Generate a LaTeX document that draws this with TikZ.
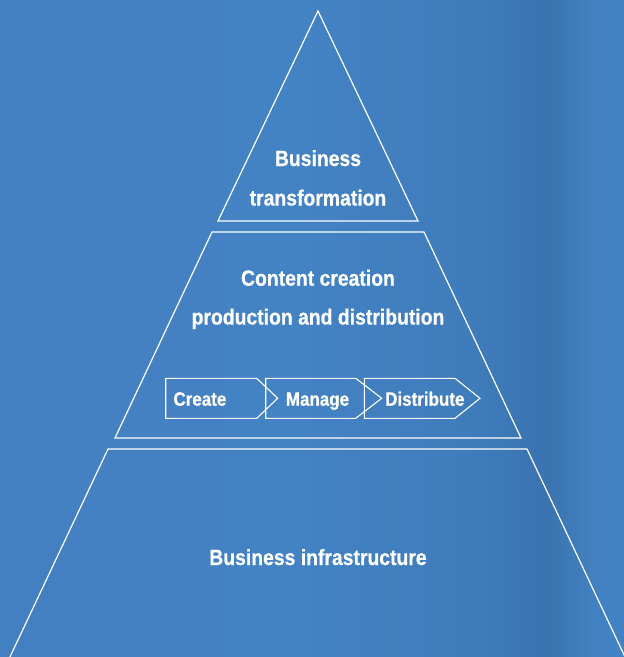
\documentclass[tikz,border=0pt]{standalone}
\usepackage{fontspec}
\newfontfamily\cond{Liberation Sans}[FakeStretch=0.88, BoldFeatures={FakeBold=0.6}]
\definecolor{bgA}{HTML}{4380C1}
\definecolor{bgB}{HTML}{4382C3}
\definecolor{bgC}{HTML}{3F7CBC}
\definecolor{bgD}{HTML}{3A73B0}
\definecolor{bgE}{HTML}{4280C0}
\definecolor{bgF}{HTML}{4282C4}
\pgfdeclarehorizontalshading{bgshade}{100bp}{color(0bp)=(bgA); color(25bp)=(bgA); color(49bp)=(bgB); color(62.7bp)=(bgC); color(68.8bp)=(bgD); color(72.3bp)=(bgE); color(75bp)=(bgF); color(100bp)=(bgF)}
\tikzset{
  layer/.style={draw=white, line width=1.2pt, line join=miter},
  chev/.style={draw=white, line width=1.1pt, line join=miter},
  title/.style={text=white, font=\cond\bfseries\fontsize{22}{26}\selectfont, anchor=base, inner sep=0pt},
  chevtext/.style={text=white, font=\cond\bfseries\fontsize{19.3}{22}\selectfont, anchor=base west, inner sep=0pt},
}
\begin{document}
\begin{tikzpicture}[x=1pt,y=-1pt]
\useasboundingbox (0,0) rectangle (624,657);
\shade[shading=bgshade] (0,0) rectangle (624,657);
\begin{scope}
\clip (0,0) rectangle (624,657);
% top triangle
\draw[layer] (318,11) -- (418,221) -- (218,221) -- cycle;
% middle trapezoid
\draw[layer] (212,232) -- (424,232) -- (521,438) -- (115,438) -- cycle;
% bottom trapezoid
\draw[layer] (108,449) -- (527,449) -- (626,659) -- (9,659) -- cycle;
% chevrons
\draw[chev] (165.7,378.3) -- (256.7,378.3) -- (277.7,398.3) -- (256.7,418.3) -- (165.7,418.3) -- cycle;
\draw[chev] (265.7,378.3) -- (355.7,378.3) -- (381.7,398.3) -- (355.7,418.3) -- (265.7,418.3) -- cycle;
\draw[chev] (364.3,378.3) -- (455,378.3) -- (480,398.3) -- (455,418.3) -- (364.3,418.3) -- cycle;
\end{scope}
\node[title] (bt1) at (318,166) {Business};
\node[title] (bt2) at (318,205.5) {transformation};
\node[title] (cc1) at (318,285.7) {Content creation};
\node[title] (cc2) at (318,324.5) {production and distribution};
\node[chevtext] (create) at (173.3,405.7) {Create};
\node[chevtext] (manage) at (285.7,405.7) {Manage};
\node[chevtext] (distribute) at (385,405.7) {Distribute};
\node[title] (bi) at (318,565) {Business infrastructure};
\end{tikzpicture}
\end{document}
